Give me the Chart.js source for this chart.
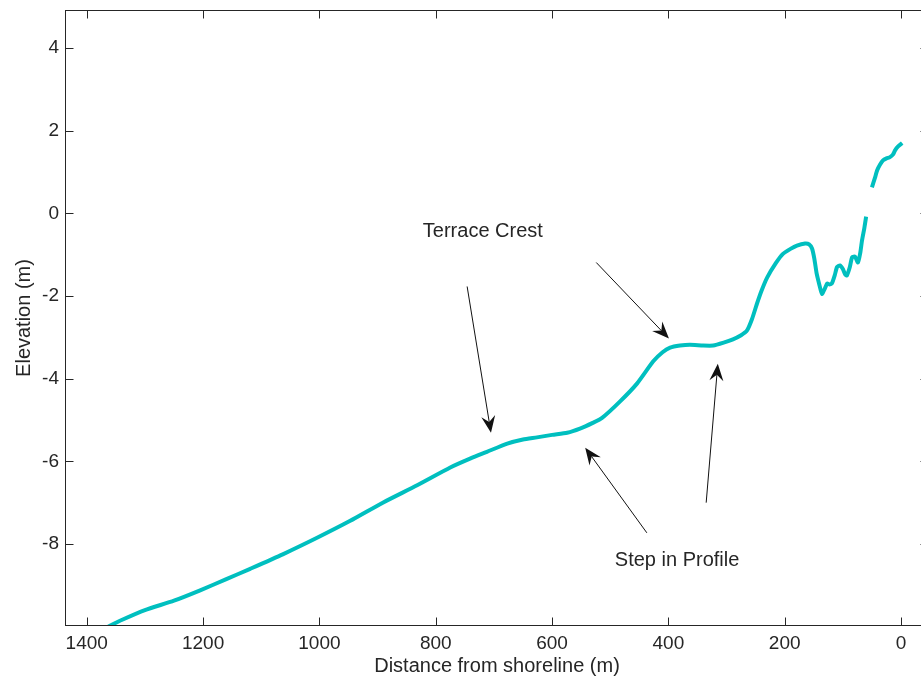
<!DOCTYPE html>
<html>
<head>
<meta charset="utf-8">
<script src="https://cdn.jsdelivr.net/npm/chart.js@4/dist/chart.umd.min.js"></script>
<style>
  html, body { margin: 0; padding: 0; background: #fff; overflow: hidden; }
  #wrap { width: 929px; height: 678px; }
</style>
</head>
<body>
<div id="wrap"><canvas id="profile" width="929" height="678"></canvas></div>
<script>
// cross-shore profile (null = gap in the survey)
const distances = [
  1368, 1340, 1300, 1250, 1205, 1160, 1119, 1063, 1004, 947, 891, 832, 775,
  740, 712, 677, 650, 626, 600, 574, 552, 530, 514, 483, 454, 426, 410, 397,
  380, 363, 340, 323, 305, 289, 275, 265, 256, 248, 240, 230, 215, 203, 190,
  179, 165, 158, 153, 149, 145, 140, 136, 131, 127, 123, 119, 114, 110, 105,
  100, 96, 93, 88, 84, 79, 74, 70, 67, 63, 60, 55, 50, 45, 41, 36, 31, 25,
  19, 14, 10, 5, -2,
];
const elevations = [
  -10.03, -9.84, -9.6, -9.37, -9.12, -8.85, -8.6, -8.25, -7.85, -7.44, -7.0,
  -6.58, -6.15, -5.93, -5.77, -5.57, -5.47, -5.42, -5.36, -5.31, -5.21, -5.07,
  -4.95, -4.55, -4.12, -3.58, -3.36, -3.25, -3.2, -3.18, -3.2, -3.2, -3.13,
  -3.05, -2.95, -2.84, -2.55, -2.2, -1.88, -1.55, -1.2, -0.98, -0.86, -0.78,
  -0.73, -0.75, -0.85, -1.1, -1.46, -1.75, -1.95, -1.82, -1.7, -1.72, -1.7,
  -1.5, -1.3, -1.26, -1.35, -1.48, -1.5, -1.3, -1.06, -1.05, -1.19, -0.95,
  -0.65, -0.35, -0.08, null, 0.63, 0.85, 1.04, 1.18, 1.28, 1.33, 1.36, 1.42,
  1.53, 1.62, 1.7,
];

const xTicks = [0, 200, 400, 600, 800, 1000, 1200, 1400];
const yTicks = [-8, -6, -4, -2, 0, 2, 4];

// annotation text and arrows, in data units: [fromX, fromY, toX, toY]
const labels = [
  { text: "Terrace Crest", x: 719, y: -0.44 },
  { text: "Step in Profile", x: 385, y: -8.41 },
];
const arrows = [
  [746, -1.77, 705, -5.31],
  [524, -1.19, 399, -3.03],
  [335, -7.0, 315, -3.64],
  [437, -7.73, 543, -5.67],
];

const FONT = "'Liberation Sans', Arial, Helvetica, sans-serif";
const INK = "#262626";

function drawArrow(ctx, x0, y0, x1, y1) {
  const ang = Math.atan2(y1 - y0, x1 - x0);
  const len = 17, half = 7, back = 11;
  const cos = Math.cos(ang), sin = Math.sin(ang);
  ctx.beginPath();
  ctx.moveTo(x0, y0);
  ctx.lineTo(x1 - back * cos, y1 - back * sin);
  ctx.stroke();
  ctx.beginPath();
  ctx.moveTo(x1, y1);
  ctx.lineTo(x1 - len * cos - half * sin, y1 - len * sin + half * cos);
  ctx.lineTo(x1 - back * cos, y1 - back * sin);
  ctx.lineTo(x1 - len * cos + half * sin, y1 - len * sin - half * cos);
  ctx.closePath();
  ctx.fill();
}

// matlab-ish box with inward ticks, plus the text/arrow annotations
const boxPlugin = {
  id: "box",
  afterDatasetsDraw(chart) {
    const { ctx, chartArea: a, scales } = chart;
    const sx = scales.x, sy = scales.y;
    const L = a.left + 0.5, R = a.right - 0.5, T = a.top + 0.5, B = a.bottom - 0.5;
    const tick = 8;
    ctx.save();
    ctx.strokeStyle = INK;
    ctx.lineWidth = 1;
    ctx.strokeRect(L, T, R - L, B - T);
    ctx.beginPath();
    xTicks.forEach((v) => {
      const px = Math.round(sx.getPixelForValue(v)) + 0.5;
      ctx.moveTo(px, B); ctx.lineTo(px, B - tick);
      ctx.moveTo(px, T); ctx.lineTo(px, T + tick);
    });
    yTicks.forEach((v) => {
      const py = Math.round(sy.getPixelForValue(v)) + 0.5;
      ctx.moveTo(L, py); ctx.lineTo(L + tick, py);
      ctx.moveTo(R, py); ctx.lineTo(R - tick, py);
    });
    ctx.stroke();

    ctx.strokeStyle = "#111";
    ctx.fillStyle = "#111";
    arrows.forEach(([ax, ay, bx, by]) => {
      drawArrow(ctx, sx.getPixelForValue(ax), sy.getPixelForValue(ay),
        sx.getPixelForValue(bx), sy.getPixelForValue(by));
    });

    ctx.fillStyle = INK;
    ctx.font = "20px " + FONT;
    ctx.textAlign = "center";
    ctx.textBaseline = "middle";
    labels.forEach((l) => {
      ctx.fillText(l.text, sx.getPixelForValue(l.x), sy.getPixelForValue(l.y));
    });
    ctx.restore();
  },
};

const points = distances.map((d, i) => ({ x: d, y: elevations[i] }));

new Chart(document.getElementById("profile"), {
  type: "line",
  data: {
    datasets: [
      {
        data: points,
        borderColor: "#00BFBF",
        borderWidth: 4,
        pointRadius: 0,
        tension: 0.2,
        spanGaps: false,
      },
    ],
  },
  options: {
    responsive: false,
    animation: false,
    events: [],
    layout: { padding: { top: 10, right: 0, left: 0, bottom: 0 } },
    plugins: { legend: { display: false }, tooltip: { enabled: false } },
    scales: {
      x: {
        type: "linear",
        reverse: true,
        min: -48.1,
        max: 1437.4,
        grid: { display: false, drawTicks: false },
        border: { display: false },
        afterBuildTicks: (s) => { s.ticks = xTicks.map((v) => ({ value: v })); },
        afterFit: (s) => { s.height = 52; s.paddingLeft = 0; s.paddingRight = 0; },
        ticks: {
          color: INK,
          padding: 6,
          maxRotation: 0,
          font: { family: FONT, size: 19 },
          callback: (v) => String(v),
        },
        title: {
          display: true,
          text: "Distance from shoreline (m)",
          color: INK,
          padding: { top: 0, bottom: 0 },
          font: { family: FONT, size: 20 },
        },
      },
      y: {
        type: "linear",
        min: -9.984,
        max: 4.919,
        grid: { display: false, drawTicks: false },
        border: { display: false },
        afterBuildTicks: (s) => { s.ticks = yTicks.map((v) => ({ value: v })); },
        afterFit: (s) => { s.width = 65; s.paddingTop = 0; s.paddingBottom = 0; },
        ticks: { color: INK, padding: 6, font: { family: FONT, size: 19 } },
        title: {
          display: true,
          text: "Elevation (m)",
          color: INK,
          padding: { top: 12, bottom: 0 },
          font: { family: FONT, size: 20 },
        },
      },
    },
  },
  plugins: [boxPlugin],
});
</script>
</body>
</html>
